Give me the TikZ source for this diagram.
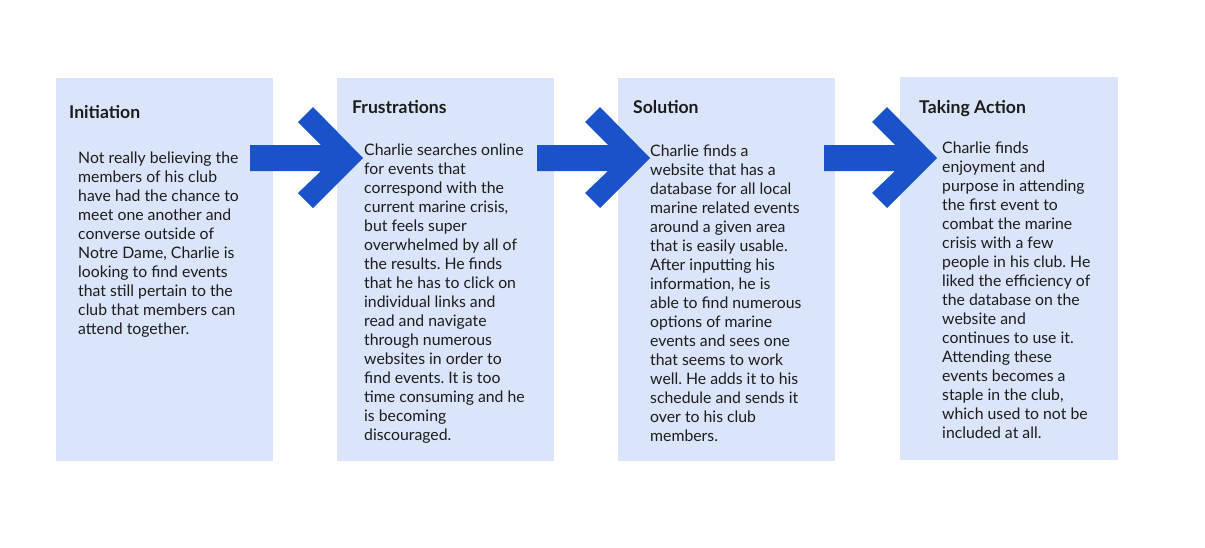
\documentclass[tikz,border=0pt]{standalone}
\usepackage{fontspec}
\setmainfont{Lato}
\frenchspacing
\definecolor{cardblue}{HTML}{DAE5FB}
\definecolor{arrowblue}{HTML}{1A53C9}
\definecolor{inkdark}{HTML}{1C1C1C}
\tikzset{
  card/.style={fill=cardblue,draw=none,anchor=north west,inner sep=0pt,minimum width=217pt,minimum height=383pt},
  heading/.style={anchor=base west,inner sep=0pt,text=inkdark,font=\fontsize{17.6}{19}\selectfont\bfseries},
  story/.style={anchor=north west,inner sep=0pt,align=left,text=inkdark,font=\fontsize{15.8}{19}\selectfont}
}
\begin{document}
\begin{tikzpicture}[x=1pt,y=-1pt]
\useasboundingbox[fill=white] (0,0) rectangle (1205,547);

% the four stages
\node[card] (initiation) at (56,78) {};
\node[card] (frustrations) at (337,78) {};
\node[card] (solution) at (618,78) {};
\node[card,minimum width=218pt] (action) at (900,77) {};

% arrows between the stages
\foreach \dx in {0,287,574}
  \fill[arrowblue,shift={(\dx,0)}] (250,145) -- (321,145) -- (298,122) -- (313,107) -- (363,158)
    -- (313,208) -- (298,193) -- (321,171) -- (250,171) -- cycle;

\node[heading] (initiation title) at (69,118) {Initiation};
\node[heading] (frustrations title) at (352,113) {Frustrations};
\node[heading] (solution title) at (633,113) {Solution};
\node[heading] (action title) at (919,113) {Taking Action};

\node[story] (initiation text) at (78,151.5) {Not really believing the\\members of his club\\have had the chance to\\meet one another and\\converse outside of\\Notre Dame, Charlie is\\looking to find events\\that still pertain to the\\club that members can\\attend together.};
\node[story] (frustrations text) at (364,143.5) {Charlie searches online\\for events that\\correspond with the\\current marine crisis,\\but feels super\\overwhelmed by all of\\the results. He finds\\that he has to click on\\individual links and\\read and navigate\\through numerous\\websites in order to\\find events. It is too\\time consuming and he\\is becoming\\discouraged.};
\node[story] (solution text) at (650,145) {Charlie finds a\\website that has a\\database for all local\\marine related events\\around a given area\\that is easily usable.\\After inputting his\\information, he is\\able to find numerous\\options of marine\\events and sees one\\that seems to work\\well. He adds it to his\\schedule and sends it\\over to his club\\members.};
\node[story] (action text) at (942,141.5) {Charlie finds\\enjoyment and\\purpose in attending\\the first event to\\combat the marine\\crisis with a few\\people in his club. He\\liked the efficiency of\\the database on the\\website and\\continues to use it.\\Attending these\\events becomes a\\staple in the club,\\which used to not be\\included at all.};
\end{tikzpicture}
\end{document}
